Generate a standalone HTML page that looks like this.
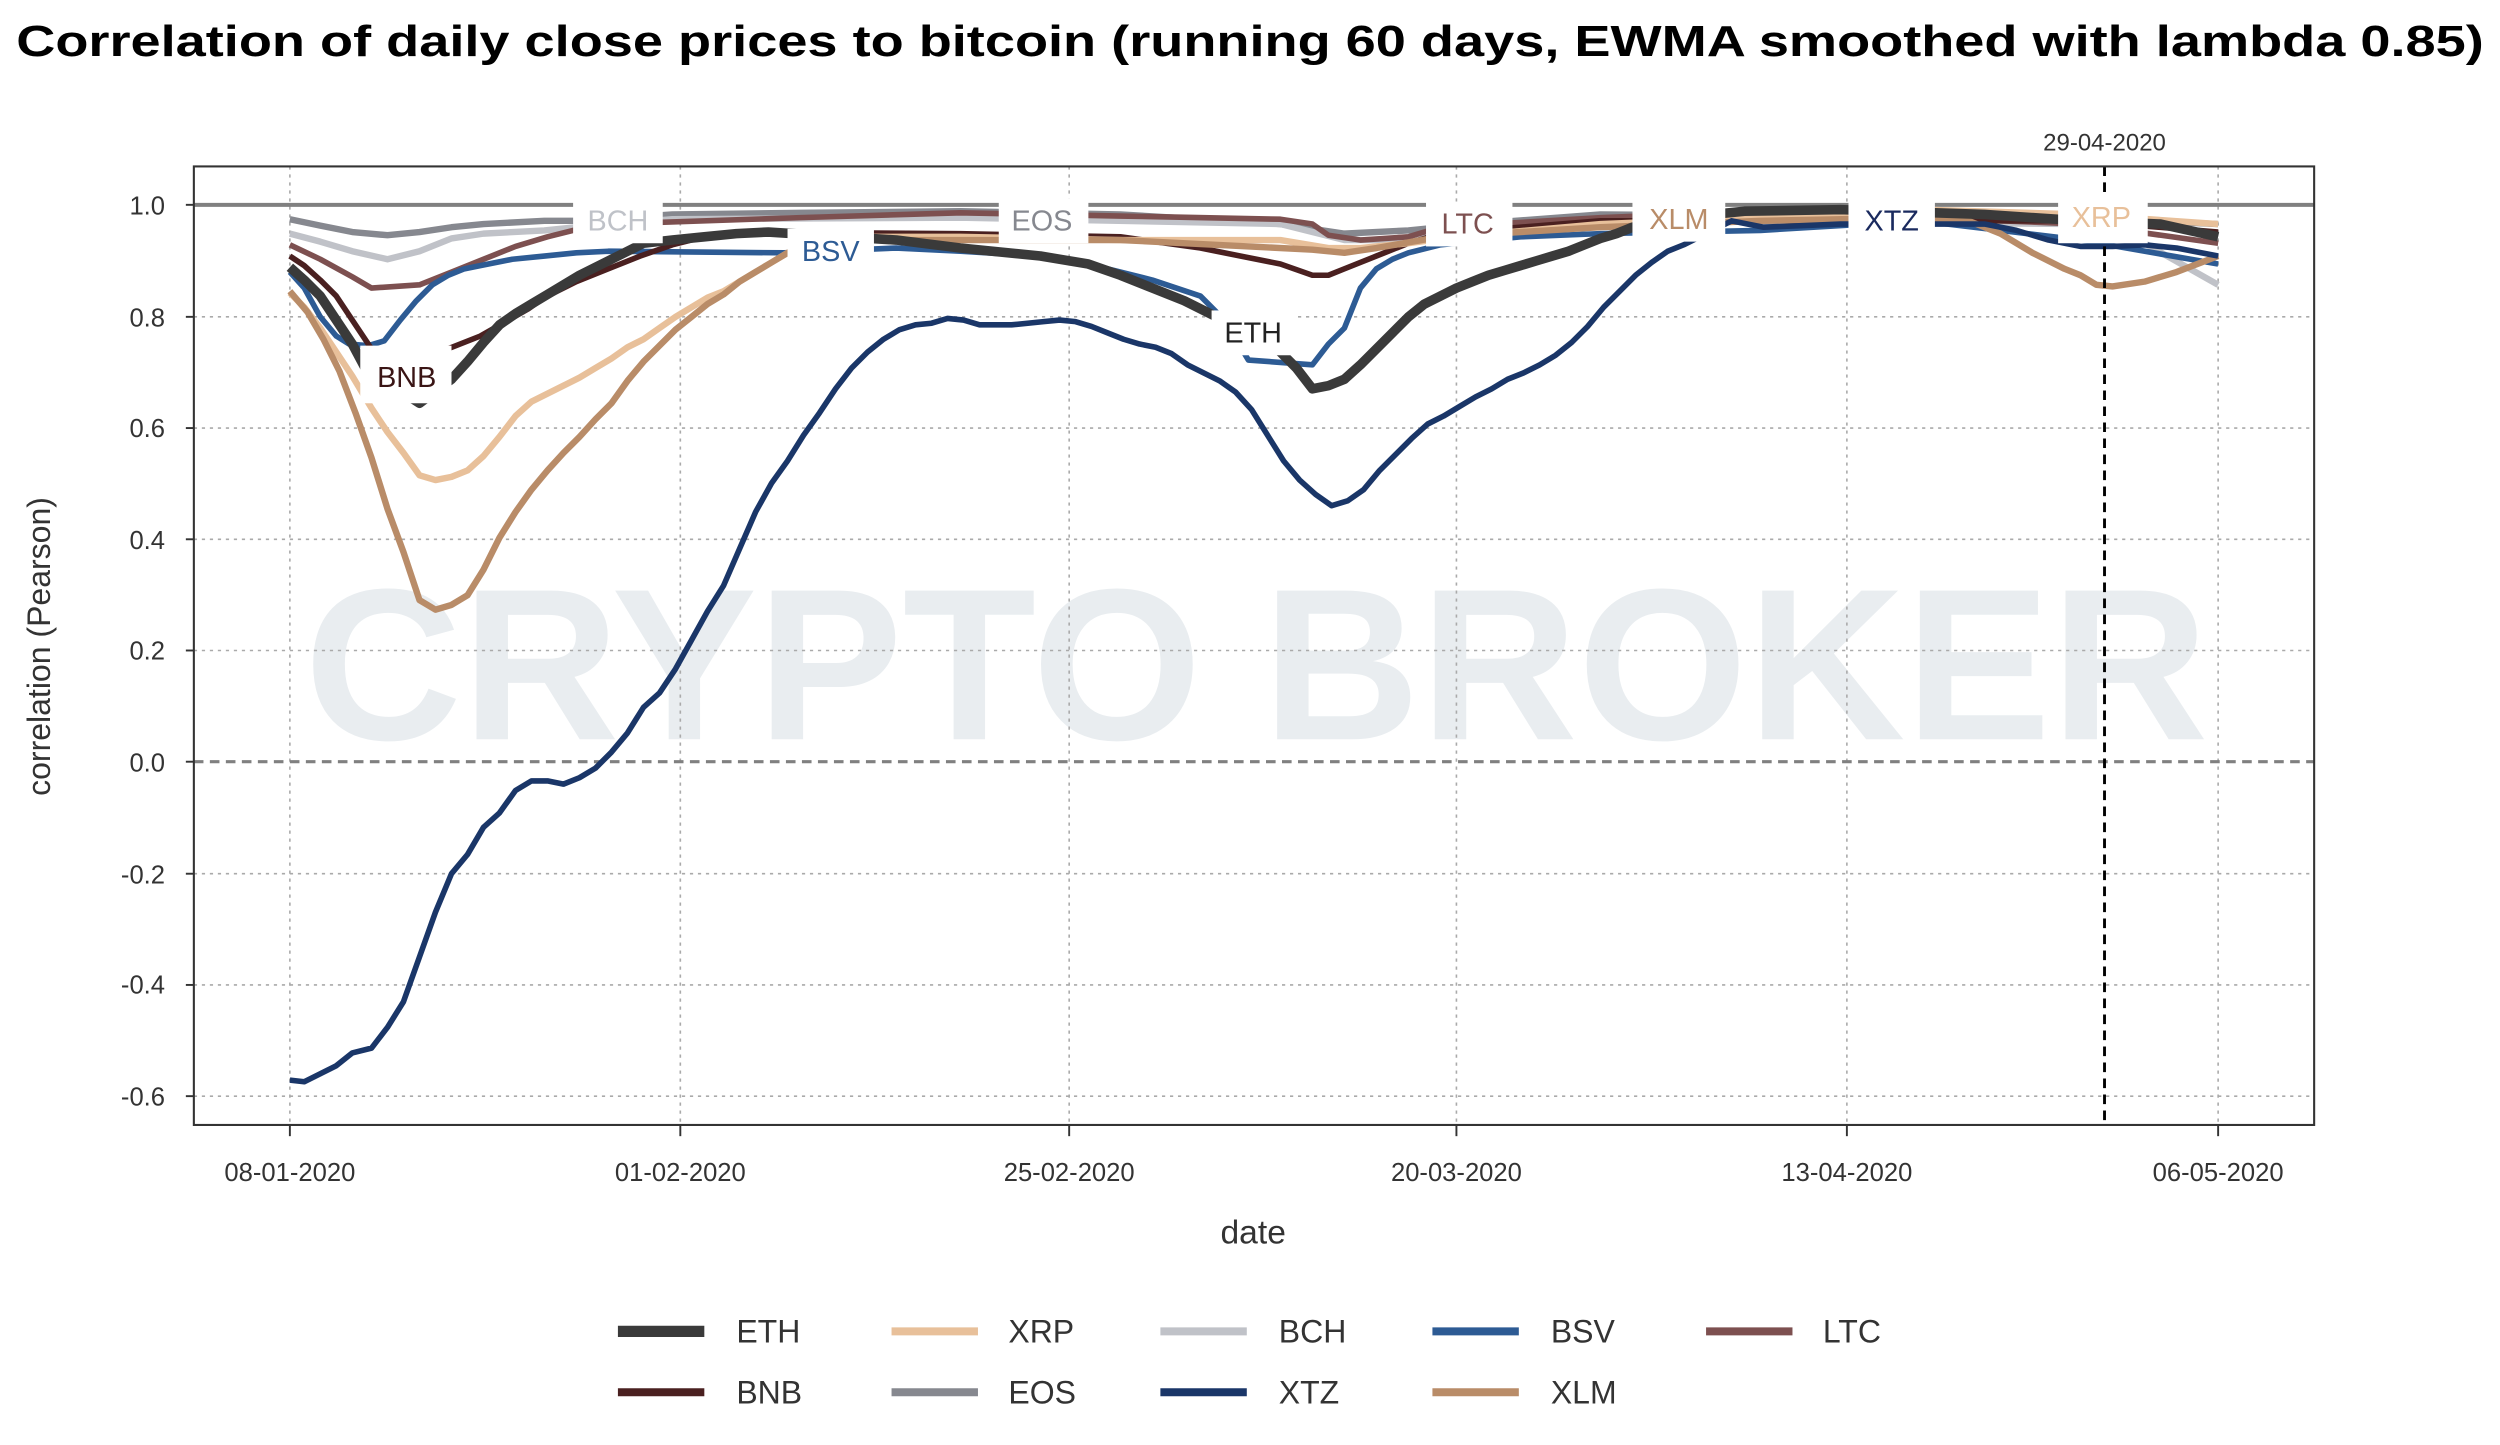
<!DOCTYPE html>
<html><head><meta charset="utf-8"><style>html,body{margin:0;padding:0;background:#fff}svg{display:block}text{font-family:"Liberation Sans",sans-serif}</style></head><body>
<svg width="2500" height="1445" viewBox="0 0 1562 903" xmlns="http://www.w3.org/2000/svg">
<text x="781" y="35" text-anchor="middle" font-size="27" font-weight="bold" fill="#000" textLength="1542" lengthAdjust="spacingAndGlyphs">Correlation of daily close prices to bitcoin (running 60 days, EWMA smoothed with lambda 0.85)</text>
<text x="785" y="462" text-anchor="middle" font-size="135" font-weight="bold" fill="#e9edf0" textLength="1190" lengthAdjust="spacingAndGlyphs">CRYPTO BROKER</text>
<g stroke="#aaa" stroke-width="1" stroke-dasharray="2,3">
<line x1="121" x2="1446" y1="198" y2="198"/><line x1="121" x2="1446" y1="267.5" y2="267.5"/><line x1="121" x2="1446" y1="337" y2="337"/><line x1="121" x2="1446" y1="406.5" y2="406.5"/><line x1="121" x2="1446" y1="546" y2="546"/><line x1="121" x2="1446" y1="615.5" y2="615.5"/><line x1="121" x2="1446" y1="685" y2="685"/>
<line y1="104" y2="703" x1="181" x2="181"/><line y1="104" y2="703" x1="425" x2="425"/><line y1="104" y2="703" x1="668" x2="668"/><line y1="104" y2="703" x1="910" x2="910"/><line y1="104" y2="703" x1="1154" x2="1154"/><line y1="104" y2="703" x1="1386" x2="1386"/>
</g>
<line x1="121" x2="1446" y1="476" y2="476" stroke="#808080" stroke-width="2" stroke-dasharray="6,4"/>
<line x1="121" x2="1446" y1="128" y2="128" stroke="#808080" stroke-width="2.5"/>
<g fill="none" stroke-linejoin="round" stroke-linecap="butt">
<polyline stroke="#86888f" stroke-width="4" points="181,137 200,141 220,145 242,147 262,145 282,142 302,140 340,138 360,138 420,134 500,133 600,132 700,134 800,140 840,146 880,144 920,140 1000,134 1300,136 1386,140"/>
<polyline stroke="#c0c2c8" stroke-width="4" points="181,146 200,151 220,157 242,162 262,157 282,149 302,146 340,144 360,142 420,137 600,136 800,140 820,145 840,150 880,150 920,143 1000,138 1300,140 1340,152 1386,178"/>
<polyline stroke="#7d5050" stroke-width="3.5" points="181,153 200,162 220,173 232,180 262,178 282,170 302,162 322,154 342,148 362,143 380,140 500,136 600,133 700,135 800,137 820,140 830,147 850,150 880,148 900,142 1000,136 1100,132 1300,140 1386,152"/>
<polyline stroke="#2d5b94" stroke-width="3.5" points="181,170 190,180 200,198 210,210 218,215 230,216 240,213 250,200 260,188 270,178 280,172 290,168 300,166 320,162 340,160 360,158 380,157 490,158 560,155 600,157 650,160 680,165 720,175 750,185 765,200 780,225 820,228 830,215 840,205 850,180 860,168 870,162 880,158 900,153 950,148 1000,146 1100,144 1200,138 1300,150 1386,165"/>
<polyline stroke="#4a2020" stroke-width="3.5" points="181,160 190,166 200,175 210,185 220,200 232,218 262,225 300,210 330,193 340,186 360,176 380,168 400,160 420,153 440,148 460,145 600,146 700,148 750,155 800,165 820,172 830,172 840,168 860,160 880,152 900,146 1000,138 1300,138 1386,145"/>
<polyline stroke="#e8c09a" stroke-width="4" points="181,183 190,192 200,205 210,220 220,235 232,255 242,270 252,283 262,297 272,300 282,298 292,294 302,285 312,273 322,260 332,251 342,246 352,241 362,236 372,230 382,224 392,217 402,212 412,205 422,198 432,192 442,186 452,182 462,176 472,170 482,164 492,158 520,148 600,148 700,150 800,150 830,155 850,155 880,152 910,148 1000,140 1100,136 1200,131 1300,134 1386,140"/>
<polyline stroke="#b98c68" stroke-width="4" points="181,182 192,195 202,212 212,232 222,258 232,286 242,318 252,345 262,375 272,381 282,378 292,372 302,356 312,336 322,320 332,306 342,294 352,283 362,273 372,262 382,252 392,238 402,226 412,216 422,206 432,198 442,190 452,184 462,176 472,170 482,164 492,158 502,153 520,150 700,150 820,156 840,158 860,155 900,148 1000,142 1100,138 1200,136 1230,138 1250,146 1270,158 1290,168 1300,172 1310,178 1320,179 1340,176 1360,170 1386,160"/>
<polyline stroke="#3a3a3a" stroke-width="6" points="181,167 190,175 200,185 210,200 220,215 228,230 262,252 282,237 292,226 302,214 312,203 322,196 332,190 342,184 352,178 362,172 372,167 382,162 392,157 402,152 420,150 440,148 460,146 480,145 560,150 600,155 650,160 680,165 700,172 720,180 740,188 760,198 790,210 810,230 820,243 830,241 840,237 850,228 860,218 870,208 880,198 890,190 900,185 910,180 920,176 930,172 940,169 950,166 960,163 970,160 980,157 990,153 1000,149 1010,146 1020,142 1050,136 1090,132 1150,131 1240,134 1300,138 1350,140 1386,148"/>
<polyline stroke="#1a3668" stroke-width="3.5" points="181,675 190,676 200,671 210,666 220,658 232,655 242,642 252,626 262,598 272,570 282,546 292,534 302,517 312,508 322,494 332,488 342,488 352,490 362,486 372,480 382,470 392,458 402,442 412,433 422,418 432,400 442,382 452,366 462,343 472,320 482,302 492,288 502,272 512,258 522,243 532,230 542,220 552,212 562,206 572,203 582,202 592,199 602,200 612,203 632,203 652,201 662,200 672,201 682,204 692,208 702,212 712,215 722,217 732,221 742,228 752,233 762,238 772,245 782,256 792,272 802,288 812,300 822,309 832,316 842,313 852,306 862,294 872,284 882,274 892,265 902,260 912,254 922,248 932,243 942,237 952,233 962,228 972,222 982,214 992,204 1002,192 1012,182 1022,172 1032,164 1042,157 1052,153 1062,148 1072,143 1082,138 1102,142 1150,140 1240,140 1260,144 1280,150 1300,154 1320,154 1340,153 1360,155 1386,160"/>
</g>
<line x1="1315" x2="1315" y1="104" y2="703" stroke="#000" stroke-width="1.8" stroke-dasharray="6,4"/>
<text x="1315" y="94" text-anchor="middle" font-size="15" fill="#333">29-04-2020</text>
<g font-size="18">
<rect x="358" y="124" width="56" height="28" fill="#fff"/><text x="386" y="144" text-anchor="middle" fill="#bfc2c8">BCH</text>
<rect x="492" y="143" width="54" height="28" fill="#fff"/><text x="519" y="163" text-anchor="middle" fill="#2d5b94">BSV</text>
<rect x="624" y="124" width="56" height="28" fill="#fff"/><text x="651" y="144" text-anchor="middle" fill="#86888f">EOS</text>
<rect x="757" y="194" width="52" height="28" fill="#fff"/><text x="783" y="214" text-anchor="middle" fill="#222">ETH</text>
<rect x="891" y="126" width="54" height="28" fill="#fff"/><text x="917" y="146" text-anchor="middle" fill="#7d5050">LTC</text>
<rect x="1020" y="123" width="58" height="28" fill="#fff"/><text x="1049" y="143" text-anchor="middle" fill="#b98c68">XLM</text>
<rect x="1155" y="124" width="54" height="28" fill="#fff"/><text x="1182" y="144" text-anchor="middle" fill="#1a2a5e">XTZ</text>
<rect x="1286" y="122" width="56" height="30" fill="#fff"/><text x="1313" y="142" text-anchor="middle" fill="#e8c09a">XRP</text>
<rect x="225" y="216" width="57" height="36" fill="#fff"/><text x="254" y="242" text-anchor="middle" fill="#3a1515">BNB</text>
</g>
<rect x="121" y="104" width="1325" height="599" fill="none" stroke="#333" stroke-width="1.3"/>
<g stroke="#333" stroke-width="1.2">
<line x1="116" x2="121" y1="128" y2="128"/><line x1="116" x2="121" y1="198" y2="198"/><line x1="116" x2="121" y1="267.5" y2="267.5"/><line x1="116" x2="121" y1="337" y2="337"/><line x1="116" x2="121" y1="406.5" y2="406.5"/><line x1="116" x2="121" y1="476" y2="476"/><line x1="116" x2="121" y1="546" y2="546"/><line x1="116" x2="121" y1="615.5" y2="615.5"/><line x1="116" x2="121" y1="685" y2="685"/>
<line y1="703" y2="710" x1="181" x2="181"/><line y1="703" y2="710" x1="425" x2="425"/><line y1="703" y2="710" x1="668" x2="668"/><line y1="703" y2="710" x1="910" x2="910"/><line y1="703" y2="710" x1="1154" x2="1154"/><line y1="703" y2="710" x1="1386" x2="1386"/>
</g>
<g font-size="16" fill="#333" text-anchor="end">
<text x="103" y="134">1.0</text><text x="103" y="204">0.8</text><text x="103" y="273">0.6</text><text x="103" y="343">0.4</text><text x="103" y="412">0.2</text><text x="103" y="482">0.0</text><text x="103" y="552">-0.2</text><text x="103" y="621">-0.4</text><text x="103" y="691">-0.6</text>
</g>
<g font-size="16" fill="#333" text-anchor="middle">
<text x="181" y="738">08-01-2020</text><text x="425" y="738">01-02-2020</text><text x="668" y="738">25-02-2020</text><text x="910" y="738">20-03-2020</text><text x="1154" y="738">13-04-2020</text><text x="1386" y="738">06-05-2020</text>
</g>
<text x="783" y="777" text-anchor="middle" font-size="21" fill="#333">date</text>
<text transform="translate(31,404) rotate(-90)" text-anchor="middle" font-size="20" fill="#333">correlation (Pearson)</text>
<g stroke-width="5">
<line x1="386" x2="440" y1="832" y2="832" stroke="#3a3a3a" stroke-width="7"/>
<line x1="557" x2="611" y1="832" y2="832" stroke="#e8c09a"/>
<line x1="725" x2="779" y1="832" y2="832" stroke="#c0c2c8"/>
<line x1="895" x2="949" y1="832" y2="832" stroke="#2d5b94"/>
<line x1="1066" x2="1120" y1="832" y2="832" stroke="#7d5050"/>
<line x1="386" x2="440" y1="870" y2="870" stroke="#4a2020"/>
<line x1="557" x2="611" y1="870" y2="870" stroke="#86888f"/>
<line x1="725" x2="779" y1="870" y2="870" stroke="#1a3668"/>
<line x1="895" x2="949" y1="870" y2="870" stroke="#b98c68"/>
</g>
<g font-size="20" fill="#333">
<text x="460" y="839">ETH</text><text x="630" y="839">XRP</text><text x="799" y="839">BCH</text><text x="969" y="839">BSV</text><text x="1139" y="839">LTC</text>
<text x="460" y="877">BNB</text><text x="630" y="877">EOS</text><text x="799" y="877">XTZ</text><text x="969" y="877">XLM</text>
</g>
</svg>
</body></html>
